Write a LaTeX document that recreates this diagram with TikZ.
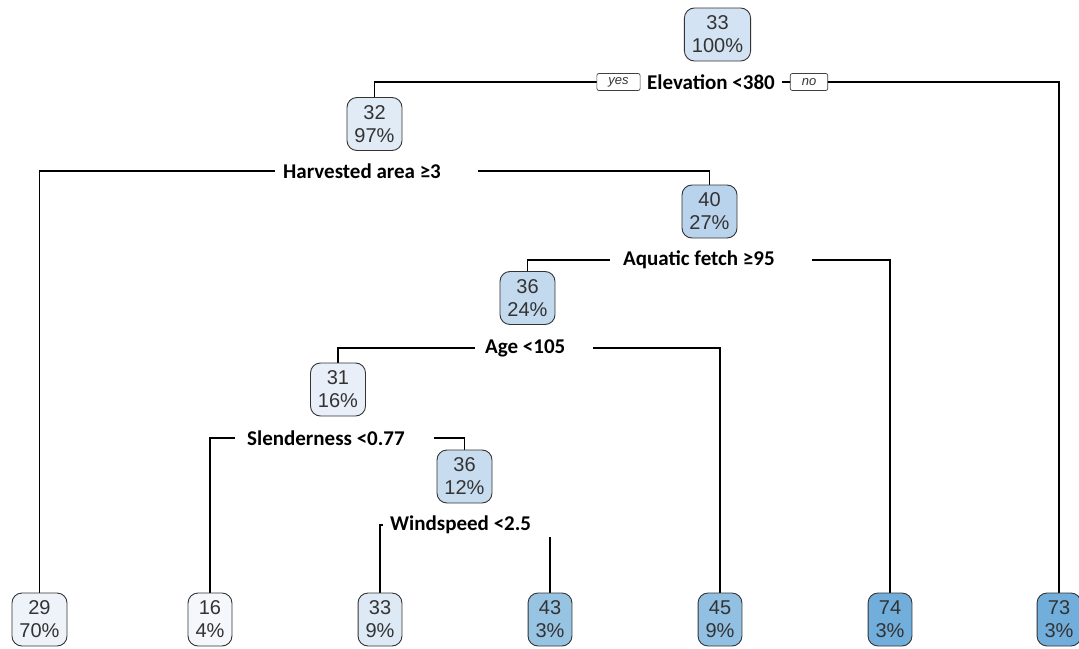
\documentclass[tikz,border=0pt]{standalone}
\usepackage{fontspec}
\setmainfont{Liberation Sans}
\newfontfamily\labfont{Carlito}
\usetikzlibrary{backgrounds}
\definecolor{cw}{HTML}{F4F7FB}
\definecolor{c29}{HTML}{EEF3FA}
\definecolor{c31}{HTML}{E8EFF8}
\definecolor{c32}{HTML}{E1EBF6}
\definecolor{c33}{HTML}{D3E3F3}
\definecolor{c33l}{HTML}{DDE9F5}
\definecolor{c36}{HTML}{C2D9EE}
\definecolor{c36b}{HTML}{C8DCEF}
\definecolor{c40}{HTML}{B8D3EB}
\definecolor{c43}{HTML}{98C4E3}
\definecolor{c45}{HTML}{92C0E2}
\definecolor{c74}{HTML}{72AEDB}
\definecolor{txt}{HTML}{333333}
\begin{document}
\begin{tikzpicture}[x=1pt,y=-1pt,
  tnode/.style={draw=black!80, line width=0.9pt, rounded corners=10pt, align=center,
    font=\fontsize{20}{23}\selectfont, text=txt, inner xsep=7.5pt, inner ysep=0pt,
    minimum height=53pt},
  splitlab/.style={fill=white, inner ysep=3pt, anchor=west,
    font=\labfont\bfseries\fontsize{21}{25}\selectfont},
  yn/.style={draw=black!75, line width=0.7pt, fill=white, rounded corners=2pt,
    font=\itshape\fontsize{13}{15}\selectfont, text=txt, minimum height=17pt,
    inner xsep=11.5pt, inner ysep=0pt},
  conn/.style={draw=black, line width=1.1pt}]
\useasboundingbox (0,0) rectangle (1079,648);
% internal nodes
\node[tnode, fill=c33] (root) at (717.5,34.5) {33\\100\%};
\node[tnode, fill=c32] (n32) at (374.5,124) {32\\97\%};
\node[tnode, fill=c40] (n40) at (709.5,211.5) {40\\27\%};
\node[tnode, fill=c36] (n36a) at (527.5,298) {36\\24\%};
\node[tnode, fill=c31] (n31) at (338,389.5) {31\\16\%};
\node[tnode, fill=c36b] (n36b) at (464.5,476.5) {36\\12\%};
% leaves
\node[tnode, fill=c29] (l29) at (39.5,619.5) {29\\70\%};
\node[tnode, fill=cw] (l16) at (210,619.5) {16\\4\%};
\node[tnode, fill=c33l] (l33) at (380,619.5) {33\\9\%};
\node[tnode, fill=c43] (l43) at (550,619.5) {43\\3\%};
\node[tnode, fill=c45] (l45) at (720,619.5) {45\\9\%};
\node[tnode, fill=c74] (l74) at (890,619.5) {74\\3\%};
\node[tnode, fill=c74] (l73) at (1059,619.5) {73\\3\%};
% split labels
\node[splitlab, inner xsep=7pt] (elev) at (640,82) {Elevation <380};
\node[splitlab, inner xsep=8pt] (harv) at (275,171) {Harvested area ≥3\kern29pt};
\node[splitlab, inner xsep=13pt] (aqua) at (610,260) {Aquatic fetch ≥95\kern24pt};
\node[splitlab, inner xsep=10pt] (age) at (475,348) {Age <105\kern17pt};
\node[splitlab, inner xsep=12pt] (slen) at (235,438) {Slenderness <0.77\kern17pt};
\node[splitlab, inner xsep=7pt] (wind) at (383,525) {Windspeed <2.5\kern20pt};
% yes / no
\node[yn] (yes) at (618.5,82) {yes};
\node[yn] (no) at (809,82) {no};
\begin{pgfonlayer}{background}
\draw[conn] (n32.north) |- (elev) -| (l73.north);
\draw[conn] (l29.north) |- (harv) -| (n40.north);
\draw[conn] (n36a.north) |- (aqua) -| (l74.north);
\draw[conn] (n31.north) |- (age) -| (l45.north);
\draw[conn] (l16.north) |- (slen) -| (n36b.north);
\draw[conn] (l33.north) |- (wind) -| (l43.north);
\end{pgfonlayer}
\end{tikzpicture}
\end{document}
